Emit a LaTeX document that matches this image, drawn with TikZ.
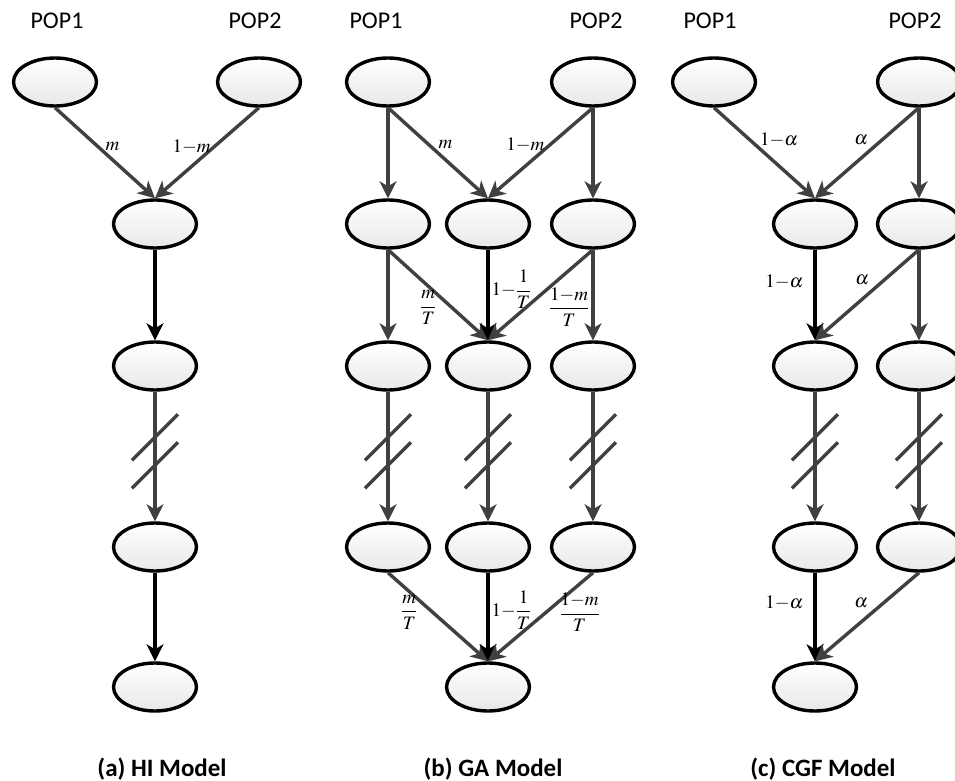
\documentclass[tikz,border=0pt]{standalone}
\usepackage{mathptmx}
\usepackage[no-math]{fontspec}
\newfontfamily\calibri{Carlito}
\usetikzlibrary{shapes.geometric,arrows.meta}
\definecolor{linegray}{RGB}{64,64,64}

\begin{document}
\begin{tikzpicture}[x=1pt, y=-1pt, node distance=142pt,
    gen/.style={draw, ellipse, line width=3.4pt, minimum width=83pt, minimum height=48pt, top color=white, bottom color=black!9},
    flow/.style={draw=linegray, line width=3.4pt, -{Stealth[length=17pt,width=17pt,inset=5pt]}},
    main/.style={flow, draw=black},
    breakmark/.style={draw=linegray, line width=3.4pt},
    lbl/.style={font=\fontsize{19}{21}\selectfont, inner sep=2pt},
    pop/.style={font=\calibri\fontsize{24}{27}\selectfont, anchor=base},
    modelcap/.style={font=\calibri\bfseries\fontsize{25}{28}\selectfont, anchor=base}]
    \useasboundingbox (0,0) rectangle (955,781);

    % (a) HI model
    \node[gen] (ap1) at (55,82) {};
    \node[gen] (ap2) at (259,82) {};
    \node[pop] (ap1t) at (57,29) {POP1};
    \node[pop] (ap2t) at (255,29) {POP2};
    \node[gen] (a1) at (155,224) {};
    \node[gen, below of=a1] (a2) {};
    \node[gen, below of=a2, yshift=-39pt] (a3) {};
    \node[gen, below of=a3, yshift=2pt] (a4) {};
    \draw[flow] (ap1.south) -- (a1.north) node[lbl, pos=0.43, right=4pt] {$m$};
    \draw[flow] (ap2.south) -- (a1.north) node[lbl, pos=0.43, left=0pt] {$1{-}m$};
    \draw[main] (a1) -- (a2);
    \draw[flow] (a2) -- coordinate[pos=0.46] (acut) (a3);
    \draw[main] (a3) -- (a4);
    \node[modelcap] (acap) at (162,776) {(a) HI Model};

    % (b) GA model
    \node[gen] (bp1) at (388,82) {};
    \node[gen] (bp2) at (593,82) {};
    \node[pop] (bp1t) at (376,29) {POP1};
    \node[pop] (bp2t) at (596,29) {POP2};
    \node[gen, below of=bp1] (b1l) {};
    \node[gen, right of=b1l, xshift=-42pt] (b1m) {};
    \node[gen, below of=bp2] (b1r) {};
    \node[gen, below of=b1l] (b2l) {};
    \node[gen, below of=b1m] (b2m) {};
    \node[gen, below of=b1r] (b2r) {};
    \node[gen, below of=b2l, yshift=-39pt] (b3l) {};
    \node[gen, below of=b2m, yshift=-39pt] (b3m) {};
    \node[gen, below of=b2r, yshift=-39pt] (b3r) {};
    \node[gen, below of=b3m, yshift=2pt] (b4) {};
    \draw[flow] (bp1) -- (b1l);
    \draw[flow] (bp1.south) -- (b1m.north) node[lbl, pos=0.41, right=6pt] {$m$};
    \draw[flow] (bp2.south) -- (b1m.north) node[lbl, pos=0.41, left=2pt] {$1{-}m$};
    \draw[flow] (bp2) -- (b1r);
    \draw[flow] (b1l) -- (b2l);
    \draw[flow] (b1l.south) -- (b2m.north) node[lbl, pos=0.64, left=12pt] {$\displaystyle\frac{m}{T}$};
    \draw[main] (b1m) -- (b2m) node[lbl, pos=0.44, right=0pt] {$1{-}\displaystyle\frac{1}{T}$};
    \draw[flow] (b1r.south) -- (b2m.north);
    \draw[flow] (b1r) -- (b2r) node[lbl, pos=0.63, left=0pt] {$\displaystyle\frac{1{-}m}{T}$};
    \draw[flow] (b2l) -- coordinate[pos=0.46] (bcutl) (b3l);
    \draw[flow] (b2m) -- coordinate[pos=0.46] (bcutm) (b3m);
    \draw[flow] (b2r) -- coordinate[pos=0.46] (bcutr) (b3r);
    \draw[flow] (b3l.south) -- (b4.north) node[lbl, pos=0.45, left=12pt] {$\displaystyle\frac{m}{T}$};
    \draw[main] (b3m) -- (b4) node[lbl, pos=0.42, right=0pt] {$1{-}\displaystyle\frac{1}{T}$};
    \draw[flow] (b3r.south) -- (b4.north) node[lbl, pos=0.45, right=10pt] {$\displaystyle\frac{1{-}m}{T}$};
    \node[modelcap] (bcap) at (493,776) {(b) GA Model};

    % (c) CGF model
    \node[gen] (cp1) at (714,82) {};
    \node[gen] (cp2) at (919,82) {};
    \node[pop] (cp1t) at (710,29) {POP1};
    \node[pop] (cp2t) at (915,29) {POP2};
    \node[gen, below of=cp2, xshift=-104pt] (c1l) {};
    \node[gen, below of=cp2] (c1r) {};
    \node[gen, below of=c1l] (c2l) {};
    \node[gen, below of=c1r] (c2r) {};
    \node[gen, below of=c2l, yshift=-39pt] (c3l) {};
    \node[gen, below of=c2r, yshift=-39pt] (c3r) {};
    \node[gen, below of=c3l, yshift=2pt] (c4) {};
    \draw[flow] (cp1.south) -- (c1l.north) node[lbl, pos=0.36, right=6pt] {$1{-}\alpha$};
    \draw[flow] (cp2.south) -- (c1l.north) node[lbl, pos=0.36, left=10pt] {$\alpha$};
    \draw[flow] (cp2) -- (c1r);
    \draw[main] (c1l) -- (c2l) node[lbl, pos=0.36, left=8pt] {$1{-}\alpha$};
    \draw[flow] (c1r.south) -- (c2l.north) node[lbl, pos=0.33, left=12pt] {$\alpha$};
    \draw[flow] (c1r) -- (c2r);
    \draw[flow] (c2l) -- coordinate[pos=0.46] (ccutl) (c3l);
    \draw[flow] (c2r) -- coordinate[pos=0.46] (ccutr) (c3r);
    \draw[main] (c3l) -- (c4) node[lbl, pos=0.34, left=8pt] {$1{-}\alpha$};
    \draw[flow] (c3r.south) -- (c4.north) node[lbl, pos=0.34, left=12pt] {$\alpha$};
    \node[modelcap] (ccap) at (823,776) {(c) CGF Model};

    % break marks on the long edges
    \foreach \c in {acut,bcutl,bcutm,bcutr,ccutl,ccutr} {
        \draw[breakmark] ([shift={(-23,9)}]\c) -- ++(46,-46);
        \draw[breakmark] ([shift={(-23,37)}]\c) -- ++(46,-46);
    }
\end{tikzpicture}
\end{document}
